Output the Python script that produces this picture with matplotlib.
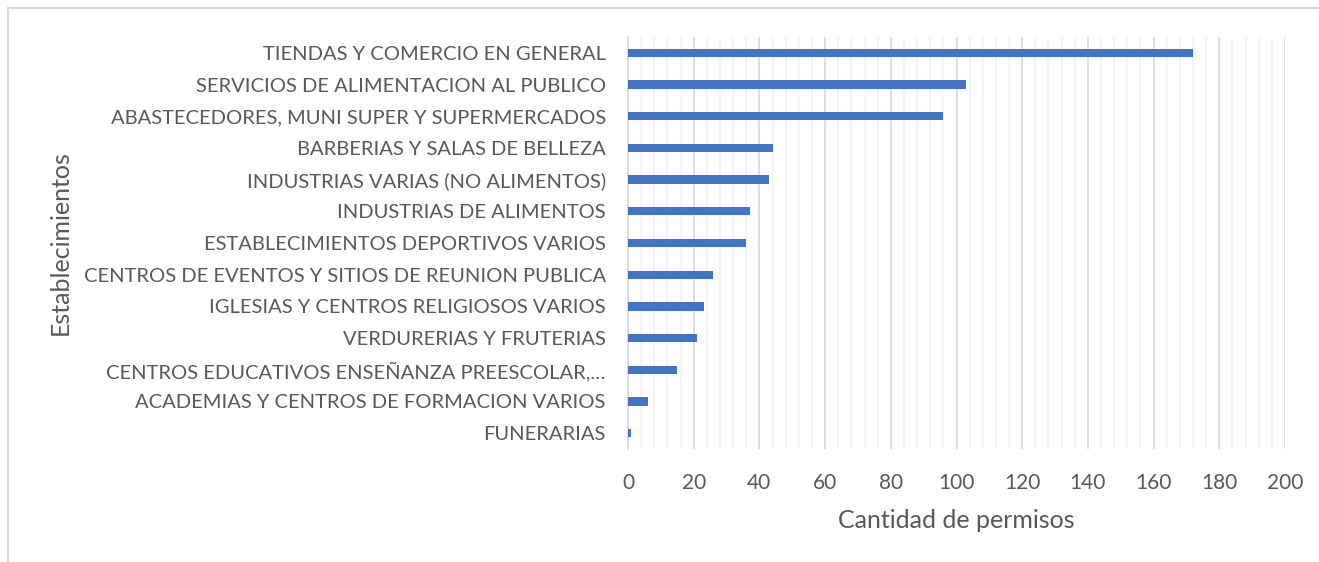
import matplotlib
matplotlib.use("Agg")
import matplotlib.pyplot as plt
from matplotlib.patches import Rectangle
from matplotlib.ticker import MultipleLocator
import numpy as np

categories = [
    "TIENDAS Y COMERCIO EN GENERAL",
    "SERVICIOS DE ALIMENTACION AL PUBLICO",
    "ABASTECEDORES, MUNI SUPER Y SUPERMERCADOS",
    "BARBERIAS Y SALAS DE BELLEZA",
    "INDUSTRIAS VARIAS (NO ALIMENTOS)",
    "INDUSTRIAS DE ALIMENTOS",
    "ESTABLECIMIENTOS DEPORTIVOS VARIOS",
    "CENTROS DE EVENTOS Y SITIOS DE REUNION PUBLICA",
    "IGLESIAS Y CENTROS RELIGIOSOS VARIOS",
    "VERDURERIAS Y FRUTERIAS",
    "CENTROS EDUCATIVOS ENSEÑANZA PREESCOLAR,…",
    "ACADEMIAS Y CENTROS DE FORMACION VARIOS",
    "FUNERARIAS",
]
permisos = [172, 103, 96, 44, 43, 37, 36, 26, 23, 21, 15, 6, 1]

text_color = "#595959"
bar_color = "#4472C4"

plt.rcParams["font.family"] = ["Lato", "DejaVu Sans"]

W, H = 1319, 562
fig = plt.figure(figsize=(W / 100, H / 100), dpi=100)
ax = fig.add_axes([628 / W, 1 - 449 / H, (1285 - 628) / W, (449 - 37) / H])

y_pos = np.arange(len(categories))
ax.barh(y_pos, permisos, height=0.26, color=bar_color, zorder=3)
ax.set_yticks(y_pos)
ax.set_yticklabels(categories)
ax.set_ylim(len(categories) - 0.5, -0.5)  # labels read top-to-bottom
ax.set_xlim(0, 200)

ax.xaxis.set_major_locator(MultipleLocator(20))
ax.xaxis.set_minor_locator(MultipleLocator(4))
ax.grid(axis="x", which="major", color="#d9d9d9", linewidth=1.2, zorder=0)
ax.grid(axis="x", which="minor", color="#f2f2f2", linewidth=1.2, zorder=0)
ax.grid(axis="y", visible=False)

for s in ["top", "right", "bottom"]:
    ax.spines[s].set_visible(False)
ax.spines["left"].set_color("#d9d9d9")
ax.spines["left"].set_linewidth(1.2)

ax.tick_params(axis="both", which="both", length=0, colors=text_color)
ax.tick_params(axis="y", pad=16, labelsize=14.5)
ax.tick_params(axis="x", pad=17, labelsize=15)

ax.set_xlabel("Cantidad de permisos", color=text_color, fontsize=18, labelpad=12)
ax.set_ylabel("Establecimientos", color=text_color, fontsize=18)
ax.yaxis.set_label_coords((72 - 628) / (1285 - 628), 0.5)

# chart area border (only top and left visible in the crop)
fig.patches.append(Rectangle((8 / W, -0.1), 1.2, 1 - 8 / H + 0.1,
                             transform=fig.transFigure, fill=False,
                             edgecolor="#d9d9d9", linewidth=1.5))

fig.savefig("out.png", dpi=100)
